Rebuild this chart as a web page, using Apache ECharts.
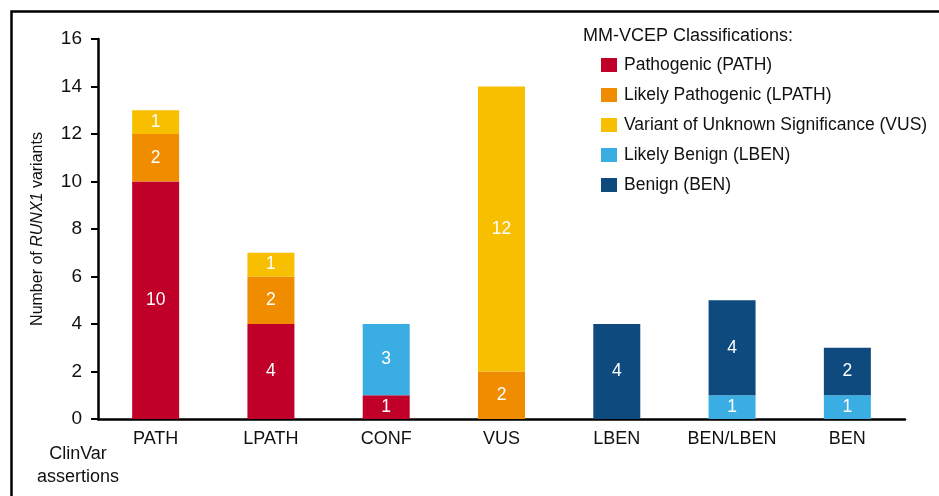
<!DOCTYPE html>
<html>
<head>
<meta charset="utf-8">
<script src="https://cdn.jsdelivr.net/npm/echarts@6/dist/echarts.min.js"></script>
<style>
  html, body { margin: 0; padding: 0; background: #fff; }
  #chart { width: 939px; height: 496px; }
</style>
</head>
<body>
<div id="chart"></div>
<script>
// ClinVar assertion groups on the x axis
const categories = ['PATH', 'LPATH', 'CONF', 'VUS', 'LBEN', 'BEN/LBEN', 'BEN']
// MM-VCEP classification counts per group (stack order bottom -> top)
const pathVals = [10, 4, 1, 0, 0, 0, 0]
const lpathVals = [2, 2, 0, 2, 0, 0, 0]
const vusVals = [1, 1, 0, 12, 0, 0, 0]
const lbenVals = [0, 0, 3, 0, 0, 1, 1]
const benVals = [0, 0, 0, 0, 4, 4, 2]
const seriesNames = [
  'Pathogenic (PATH)',
  'Likely Pathogenic (LPATH)',
  'Variant of Unknown Significance (VUS)',
  'Likely Benign (LBEN)',
  'Benign (BEN)'
]
const colors = ['#C00028', '#F08C00', '#F8BE00', '#3AADE2', '#0E4A7E']

const font = '"Liberation Sans", Arial, Helvetica, sans-serif'

const chart = echarts.init(document.getElementById('chart'))

const series = [pathVals, lpathVals, vusVals, lbenVals, benVals].map((vals, i) => ({
  name: seriesNames[i],
  type: 'bar',
  stack: 'total',
  barWidth: 47,
  data: vals,
  itemStyle: { color: colors[i] },
  label: {
    show: true,
    position: 'inside',
    color: '#fff',
    fontSize: 17.5,
    fontFamily: font,
    formatter: p => (p.value ? String(p.value) : '')
  }
}))

chart.setOption({
  animation: false,
  color: colors,
  title: {
    text: 'MM-VCEP Classifications:',
    left: 583,
    top: 27,
    padding: 0,
    textStyle: { fontSize: 18, fontWeight: 'normal', color: '#111', fontFamily: font }
  },
  legend: {
    orient: 'vertical',
    left: 601,
    top: 55,
    padding: 0,
    itemWidth: 16,
    itemHeight: 14,
    itemGap: 10,
    icon: 'rect',
    selectedMode: false,
    textStyle: { fontSize: 17.5, lineHeight: 20, color: '#111', fontFamily: font, padding: [0, 0, 0, 2] },
    data: seriesNames
  },
  grid: { left: 98, right: 34, top: 39, bottom: 77, containLabel: false },
  xAxis: {
    type: 'category',
    data: categories,
    axisLine: { show: true, lineStyle: { color: '#000', width: 2.5 } },
    axisTick: { show: false },
    axisLabel: { color: '#111', fontSize: 18, margin: 11, fontFamily: font, interval: 0 }
  },
  yAxis: {
    type: 'value',
    min: 0,
    max: 16,
    interval: 2,
    name: '{n|Number of }{i|RUNX1}{n| variants}',
    nameLocation: 'middle',
    nameGap: 52,
    nameRotate: 90,
    nameTextStyle: {
      rich: {
        n: { fontSize: 16, color: '#111', fontFamily: font },
        i: { fontSize: 16, color: '#111', fontFamily: font, fontStyle: 'italic' }
      }
    },
    splitLine: { show: false },
    axisLine: { show: true, lineStyle: { color: '#000', width: 2.5 } },
    axisTick: { show: true, inside: false, length: 7, lineStyle: { color: '#000', width: 2 } },
    axisLabel: { color: '#111', fontSize: 19, margin: 16, fontFamily: font }
  },
  graphic: [
    {
      type: 'rect',
      left: 9,
      top: 9,
      shape: { width: 1000, height: 600 },
      style: { fill: 'none', stroke: '#000', lineWidth: 2.5 },
      silent: true
    },
    {
      type: 'text',
      x: 78,
      y: 443,
      style: {
        text: 'ClinVar\nassertions',
        lineHeight: 23,
        fill: '#111',
        font: '18px ' + font,
        align: 'center',
        verticalAlign: 'top'
      }
    }
  ],
  series: series
})
</script>
</body>
</html>
